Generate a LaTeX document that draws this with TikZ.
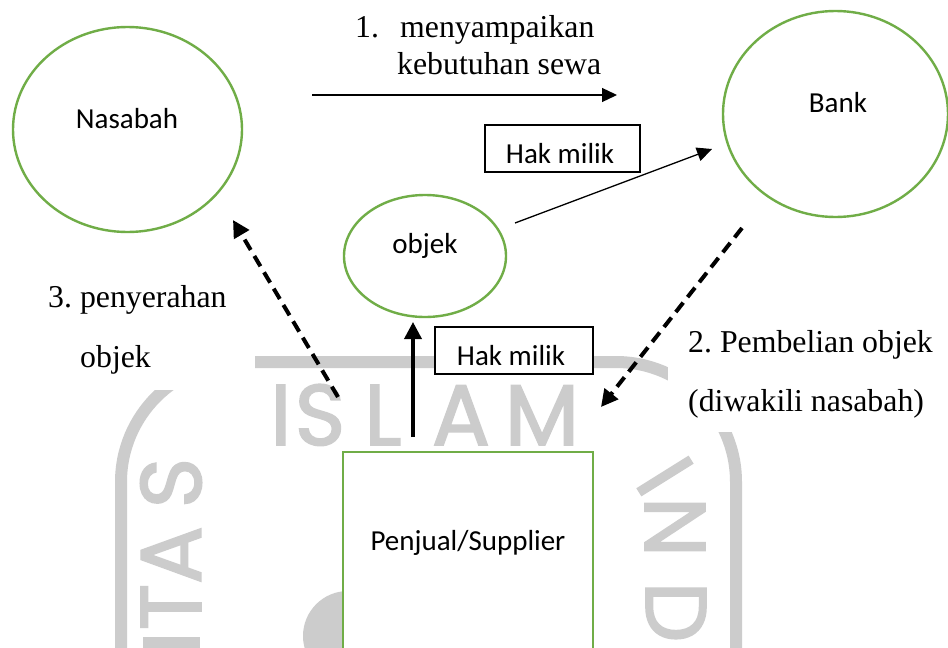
\documentclass[tikz,border=0pt]{standalone}
\usepackage{fontspec}
\setmainfont{Liberation Serif}
\newfontfamily\calib{Carlito}
\newfontfamily\wmfont[FakeBold=2]{Poppins}
\usetikzlibrary{shapes.geometric,arrows.meta}
\definecolor{ogreen}{RGB}{112,173,71}
\definecolor{wm}{RGB}{204,204,204}
\begin{document}
\frenchspacing
\begin{tikzpicture}[x=1pt,y=-1pt,
  circ/.style={draw=ogreen,line width=2.4pt,ellipse,inner sep=0pt,fill=white},
  sbox/.style={draw=ogreen,line width=2.4pt,fill=white,inner sep=0pt},
  hbox/.style={draw=black,line width=1.3pt,fill=white,inner sep=0pt},
  lbl/.style={font=\calib\fontsize{29pt}{34pt}\selectfont,anchor=base,inner sep=0pt},
  txt/.style={font=\fontsize{31.8pt}{38pt}\selectfont,anchor=base west,inner sep=0pt},
  wmletter/.style={font=\wmfont\fontsize{86pt}{86pt}\selectfont,text=wm,inner sep=0pt},
  thinarrow/.style={line width=1.3pt,-{Triangle[length=15pt,width=14pt]}},
  thickarrow/.style={line width=3.6pt,-{Triangle[length=17pt,width=17pt]}},
  dasharrow/.style={line width=4pt,dash pattern=on 12pt off 7pt,-{Triangle[length=17pt,width=17pt]}}
]
\clip (0,0) rectangle (948,648);
\fill[white] (0,0) rectangle (948,648);
% watermark
\draw[wm,line width=12pt,rounded corners=120pt] (121,720) -- (121,362) -- (736,362) -- (736,720);
\fill[wm] (348,636) circle[radius=45];
\node[wmletter,anchor=base] (wI) at (281,445) {I};
\node[wmletter,anchor=base] (wS) at (320,445) {S};
\node[wmletter,anchor=base] (wL) at (383,445) {L};
\node[wmletter,anchor=base] (wA) at (461,445) {A};
\node[wmletter,anchor=base] (wM) at (542,445) {M};
\node[wmletter,rotate=90] (lS) at (171,483) {S};
\node[wmletter,rotate=90] (lA) at (171,555) {A};
\node[wmletter,rotate=90] (lT) at (171,607) {T};
\fill[wm] (143,637) rectangle (200,648);
\node[wmletter,rotate=-58] (rI) at (665,476) {I};
\node[wmletter,rotate=-90] (rN) at (675,527) {N};
\node[wmletter,rotate=-90] (rD) at (676,612) {D};
% white label areas
\fill[white] (40,275) rectangle (255,390);
\fill[white] (668,318) rectangle (948,432);
% shapes
\node[circ,minimum width=229pt,minimum height=205pt] (nas) at (127.5,129.5) {};
\node[lbl] (nasT) at (127,128) {Nasabah};
\node[circ,minimum width=225pt,minimum height=206pt] (bank) at (835.5,114) {};
\node[lbl] (bankT) at (838,112) {Bank};
\node[circ,minimum width=162pt,minimum height=122pt] (obj) at (425,256) {};
\node[lbl] (objT) at (425,253) {objek};
\node[sbox,minimum width=250pt,minimum height=218pt] (pen) at (468,561) {};
\node[lbl] (penT) at (468,550) {Penjual/Supplier};
\node[hbox,minimum width=155pt,minimum height=47pt] (hak1) at (562.5,148.5) {};
\node[lbl] (hak1T) at (560,163) {Hak milik};
\node[hbox,minimum width=158pt,minimum height=47pt] (hak2) at (514,350.5) {};
\node[lbl] (hak2T) at (511,365) {Hak milik};
% texts
\node[txt] (t1n) at (355,37) {1.};
\node[txt] (t1a) at (400,37) {menyampaikan};
\node[txt] (t1b) at (397,74) {kebutuhan sewa};
\node[txt] (t3a) at (48,307) {3. penyerahan};
\node[txt] (t3b) at (80,367) {objek};
\node[txt] (t2a) at (688,352) {2. Pembelian objek};
\node[txt] (t2b) at (688,411) {(diwakili nasabah)};
% arrows
\coordinate (a1s) at (312,95);
\coordinate (a1e) at (617,95);
\coordinate (a2s) at (515,223);
\coordinate (a2e) at (712,149);
\coordinate (a3s) at (413,437);
\coordinate (a3e) at (413,322);
\coordinate (a4s) at (338,397);
\coordinate (a4e) at (233,220);
\coordinate (a5s) at (742,228);
\coordinate (a5e) at (601,407);
\draw[thinarrow] (a1s) -- (a1e);
\draw[thinarrow] (a2s) -- (a2e);
\draw[thickarrow] (a3s) -- (a3e);
\draw[dasharrow] (a4s) -- (a4e);
\draw[dasharrow] (a5s) -- (a5e);
\end{tikzpicture}
\end{document}
